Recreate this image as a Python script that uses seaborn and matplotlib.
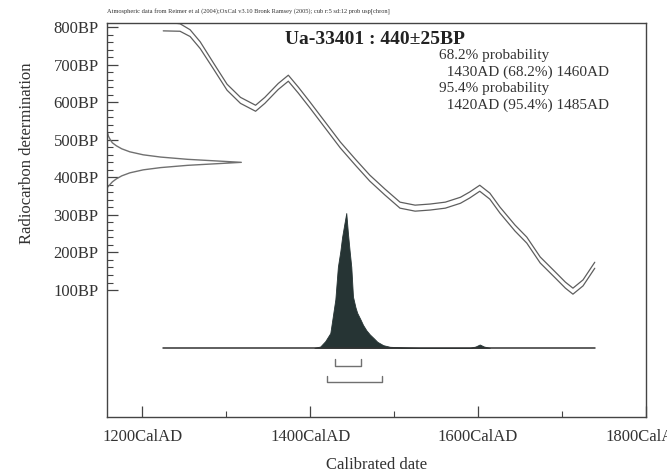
import numpy as np
import matplotlib
matplotlib.use("Agg")
import matplotlib.pyplot as plt
import seaborn as sns

sns.set_style("white")
plt.rcParams["font.family"] = ["Liberation Serif", "DejaVu Serif"]

# calibration curve (IntCal04), centre and 1-sigma half width in BP
curve_years = [1225, 1245, 1257, 1269, 1285, 1301, 1317, 1335, 1346, 1362, 1374, 1386,
               1400, 1418, 1436, 1454, 1471, 1489, 1507, 1525, 1543, 1561, 1579, 1590,
               1602, 1614, 1626, 1644, 1658, 1674, 1692, 1704, 1713, 1725, 1739]
curve_bp = [802, 799, 784, 752, 696, 640, 605, 584, 605, 642, 664, 632,
            592, 539, 486, 440, 398, 361, 326, 318, 321, 326, 339, 353,
            371, 350, 313, 265, 233, 180, 140, 113, 97, 119, 166]
curve_err = [12, 10, 9, 9, 8, 8, 8, 8, 8, 8, 8, 8,
             8, 8, 8, 8, 8, 8, 8, 8, 8, 8, 8, 8,
             8, 8, 8, 8, 8, 8, 8, 8, 8, 8, 8]

# measured date 440 +- 25 BP (relative probability)
meas_bp = [372, 380, 388, 396, 404, 412, 420, 426, 432, 436, 440,
           444, 448, 454, 460, 468, 476, 484, 492, 500, 510, 525]
meas_prob = [0.0, 0.02, 0.04, 0.07, 0.11, 0.17, 0.27, 0.40, 0.60, 0.80, 1.0,
             0.80, 0.60, 0.40, 0.27, 0.17, 0.11, 0.07, 0.04, 0.025, 0.01, 0.0]

# calibrated probability distribution
cal_years = [1405, 1412, 1418, 1424, 1430, 1433, 1436, 1438, 1441, 1443, 1445, 1447, 1449,
             1451, 1454, 1456, 1460, 1463, 1467, 1471, 1476, 1480, 1487, 1495, 1510, 1530,
             1590, 1597, 1602, 1607, 1614]
cal_prob = [0.0, 0.01, 0.05, 0.11, 0.36, 0.60, 0.72, 0.82, 0.93, 1.0, 0.85, 0.72, 0.60,
            0.38, 0.30, 0.26, 0.21, 0.17, 0.13, 0.10, 0.07, 0.045, 0.02, 0.008, 0.004, 0.0,
            0.0, 0.01, 0.025, 0.01, 0.0]

# highest probability ranges
range_68 = [1430, 1460]
range_95 = [1420, 1485]

title = "Ua-33401 : 440\u00b125BP"
prob_lines = ["68.2% probability", "  1430AD (68.2%) 1460AD",
              "95.4% probability", "  1420AD (95.4%) 1485AD"]
header = ("Atmospheric data from Reimer et al (2004);OxCal v3.10 Bronk Ramsey (2005); "
          "cub r:5 sd:12 prob usp[chron]")

x_ticks = [1200, 1400, 1600, 1800]
x_minor = [1300, 1500, 1700]
y_ticks = [100, 200, 300, 400, 500, 600, 700, 800]

fig = plt.figure(figsize=(6.67, 4.74), dpi=100)
ax = fig.add_axes([0.1604, 0.1203, 0.8081, 0.8312])
xmin, xmax = 1158, 1800
ax.set_xlim(xmin, xmax)
ax.set_ylim(-238, 811)

line_col = "#5e5e5e"
upper = np.array(curve_bp) + np.array(curve_err)
lower = np.array(curve_bp) - np.array(curve_err)
sns.lineplot(x=curve_years, y=upper, ax=ax, color=line_col, lw=0.9, estimator=None, sort=False)
sns.lineplot(x=curve_years, y=lower, ax=ax, color=line_col, lw=0.9, estimator=None, sort=False)

# measured date drawn along the y axis
meas_scale = 160
sns.lineplot(x=xmin + np.array(meas_prob) * meas_scale, y=meas_bp, ax=ax,
             color="#707070", lw=1.0, estimator=None, sort=False)

# calibrated distribution
base = -54
cal_scale = 359
ax.plot([curve_years[0], curve_years[-1]], [base, base], color="#333333", lw=1.1)
ax.fill_between(cal_years, base, base + np.array(cal_prob) * cal_scale,
                color="#263434", lw=0.6, edgecolor="#263434")

# range brackets
for rng, lvl in [(range_68, -101), (range_95, -146)]:
    ax.plot([rng[0], rng[0], rng[1], rng[1]], [lvl + 18, lvl, lvl, lvl + 18],
            color="#707070", lw=1.0)

ax.set_xticks(x_ticks)
ax.set_xticks(x_minor, minor=True)
ax.set_xticklabels([f"{v}CalAD" for v in x_ticks])
ax.set_yticks(y_ticks)
ax.set_yticks(np.arange(100, 801, 20), minor=True)
ax.set_yticklabels([f"{v}BP" for v in y_ticks])
ax.tick_params(axis="both", which="both", bottom=True, left=True, top=False, right=False)
ax.tick_params(axis="both", which="major", direction="in", length=8, width=0.9,
               color="#444444", labelsize=12, labelcolor="#333333")
ax.tick_params(axis="both", which="minor", direction="in", length=4, width=0.8,
               color="#444444")
ax.tick_params(axis="x", which="major", pad=9)
ax.tick_params(axis="y", which="major", pad=6)
for s in ax.spines.values():
    s.set_color("#444444")
    s.set_linewidth(1.0)

ax.set_xlabel("Calibrated date", fontsize=12, color="#333333", labelpad=8)
ax.set_ylabel("Radiocarbon determination", fontsize=12, color="#333333")
ax.yaxis.set_label_coords(-0.134, 0.67)

ax.text(0.497, 0.958, title, transform=ax.transAxes, ha="center", va="center",
        fontsize=14, fontweight="bold", color="#222222")
for i, line in enumerate(prob_lines):
    ax.text(0.616, 0.918 - i * 0.0425, line, transform=ax.transAxes, ha="left",
            va="center", fontsize=11, color="#333333")
fig.text(107 / 667, 1 - 12 / 474, header, ha="left", va="center", fontsize=4.6,
         color="#333333")

fig.savefig("out.png", dpi=100)
